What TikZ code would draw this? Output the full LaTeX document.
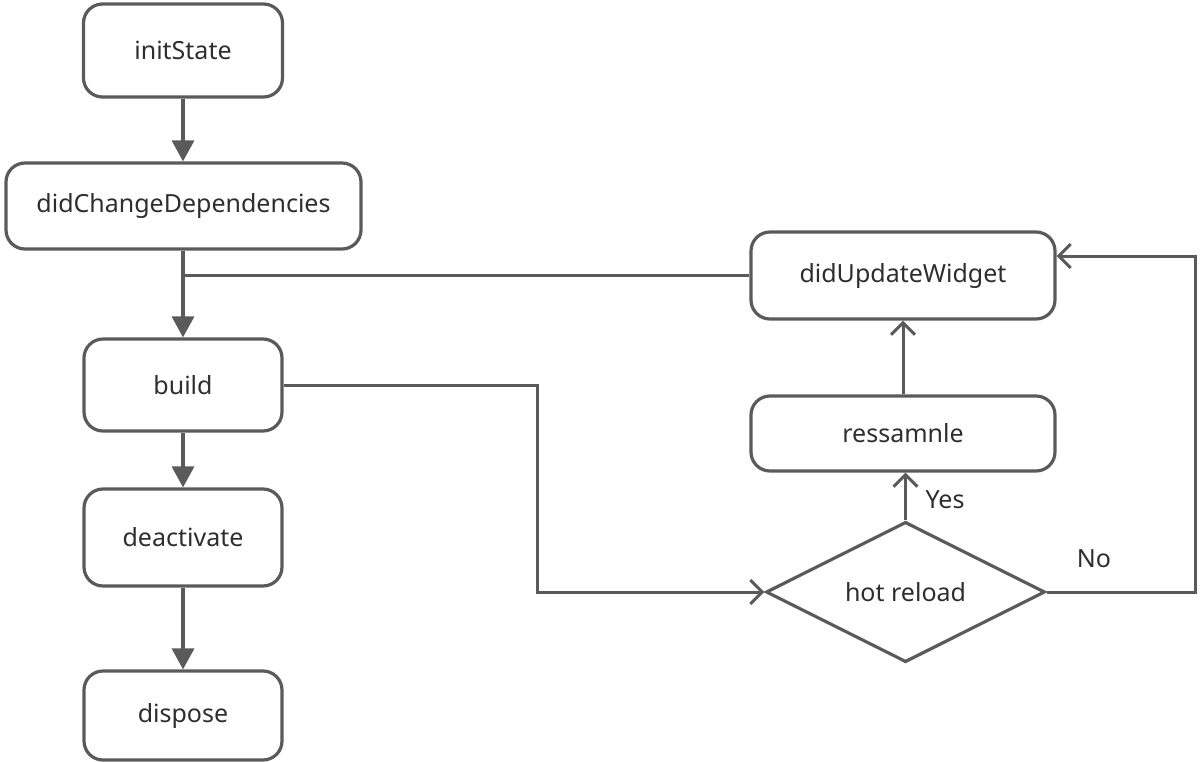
\documentclass[tikz,border=0pt]{standalone}
\usepackage{fontspec}
\setmainfont{Noto Sans}
\usetikzlibrary{arrows.meta,shapes.geometric}
\definecolor{ln}{HTML}{5A5A5A}
\definecolor{tx}{HTML}{2E2E2E}
\begin{document}
\begin{tikzpicture}[x=1pt,y=-1pt,
  box/.style={draw=ln,line width=3.2pt,rounded corners=19pt,inner sep=0pt,text=tx,font=\fontsize{25}{30}\selectfont},
  dia/.style={draw=ln,line width=3.2pt,diamond,inner sep=0pt,minimum width=279pt,minimum height=138pt,text=tx,font=\fontsize{25}{30}\selectfont},
  fl/.style={draw=ln,line width=3.5pt,-{Triangle[length=21pt,width=22pt]}},
  op/.style={draw=ln,line width=3pt,-{Straight Barb[length=12pt,width=24pt,line width=3pt]}},
  lbl/.style={text=tx,font=\fontsize{25}{30}\selectfont,inner sep=0pt}]
\useasboundingbox (0,0) rectangle (1201,762);
\node[box,minimum width=199pt,minimum height=93pt] (init) at (183,50.5) {initState};
\node[box,minimum width=355pt,minimum height=86pt] (dcd) at (183.5,206) {didChangeDependencies};
\node[box,minimum width=198pt,minimum height=92pt] (build) at (183,385) {build};
\node[box,minimum width=198pt,minimum height=97pt] (deact) at (183,537.5) {deactivate};
\node[box,minimum width=198pt,minimum height=89pt] (disp) at (183,715.5) {dispose};
\node[box,minimum width=304pt,minimum height=87pt] (duw) at (903,275.5) {didUpdateWidget};
\node[box,minimum width=304pt,minimum height=75pt] (res) at (903,433.5) {ressamnle};
\node[dia] (hot) at (905.5,592) {hot reload};
\coordinate (j) at (183,275);
\coordinate (b1) at (537,385);
\coordinate (b2) at (537,592);
\coordinate (n1) at (1195,592);
\coordinate (n2) at (1195,256);
\draw[fl] (init.south) -- (dcd.north -| init.south);
\draw[fl] (dcd.south -| j) -- (build.north -| j);
\draw[draw=ln,line width=3pt] (duw.west |- j) -- (j);
\draw[fl] (build.south) -- (deact.north);
\draw[fl] (deact.south) -- (disp.north);
\draw[op] (build.east |- b1) -- (b1) -- (b2) -- (hot.west);
\draw[op] (hot.north) -- (hot.north |- res.south);
\draw[op] (res.north) -- (duw.south);
\draw[op] (hot.east) -- (n1) -- (n2) -- (duw.east |- n2);
\node[lbl] (yes) at (945,500) {Yes};
\node[lbl] (no) at (1094,559) {No};
\end{tikzpicture}
\end{document}
